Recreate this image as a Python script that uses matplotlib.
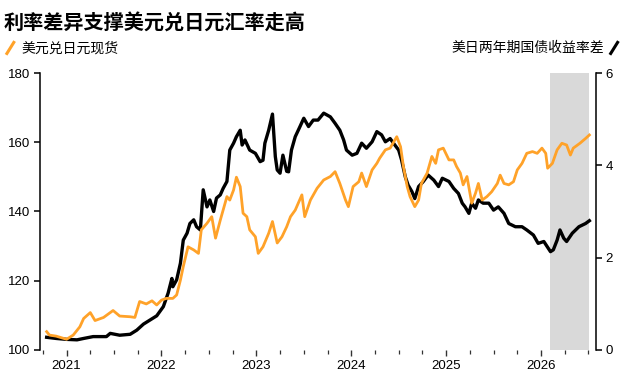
import matplotlib
matplotlib.use('Agg')
import matplotlib.pyplot as plt
from matplotlib.lines import Line2D
from matplotlib.ticker import MultipleLocator, FixedLocator

plt.rcParams['font.family'] = ['Liberation Sans', 'Noto Sans CJK SC', 'DejaVu Sans']

# USD/JPY spot (left axis), decimal years
usdjpy_t = [2020.79, 2020.82, 2020.89, 2021.00, 2021.07, 2021.14, 2021.18, 2021.25, 2021.30, 2021.39,
            2021.49, 2021.56, 2021.67, 2021.72, 2021.77, 2021.84, 2021.90, 2021.95, 2022.00, 2022.05,
            2022.12, 2022.16, 2022.20, 2022.23, 2022.28, 2022.34, 2022.39, 2022.42, 2022.48, 2022.53,
            2022.57, 2022.62, 2022.65, 2022.69, 2022.72, 2022.76, 2022.79, 2022.83, 2022.86, 2022.90,
            2022.93, 2022.99, 2023.02, 2023.07, 2023.13, 2023.17, 2023.22, 2023.27, 2023.32, 2023.36,
            2023.41, 2023.48, 2023.51, 2023.57, 2023.64, 2023.71, 2023.78, 2023.83, 2023.88, 2023.94,
            2023.97, 2024.02, 2024.08, 2024.11, 2024.16, 2024.22, 2024.27, 2024.30, 2024.36, 2024.41,
            2024.48, 2024.52, 2024.55, 2024.59, 2024.62, 2024.67, 2024.71, 2024.74, 2024.80, 2024.85,
            2024.89, 2024.92, 2024.97, 2025.03, 2025.08, 2025.11, 2025.15, 2025.18, 2025.22, 2025.27,
            2025.31, 2025.34, 2025.38, 2025.43, 2025.48, 2025.54, 2025.57, 2025.61, 2025.66, 2025.71,
            2025.75, 2025.80, 2025.85, 2025.91, 2025.96, 2026.01, 2026.05, 2026.07, 2026.12, 2026.17,
            2026.22, 2026.27, 2026.31, 2026.34, 2026.41, 2026.47, 2026.51]
usdjpy = [105.3, 104.3, 104.0, 103.1, 104.3, 106.7, 109.1, 110.8, 108.5, 109.4,
          111.4, 109.8, 109.6, 109.4, 114.0, 113.3, 114.2, 113.0, 114.4, 114.9,
          114.9, 115.9, 120.2, 124.1, 129.8, 128.9, 127.9, 134.7, 136.6, 138.5,
          132.3, 137.5, 140.4, 144.3, 143.3, 146.2, 149.9, 147.2, 139.5, 138.5,
          134.7, 132.7, 127.9, 129.8, 133.7, 137.1, 130.9, 132.7, 135.6, 138.5,
          140.4, 144.8, 138.5, 143.3, 146.7, 149.1, 150.1, 151.5, 148.1, 143.3,
          141.4, 147.2, 148.6, 151.1, 147.2, 152.0, 153.9, 155.4, 157.8, 158.3,
          161.6, 158.7, 153.0, 147.2, 144.3, 141.4, 143.3, 148.1, 151.1, 155.9,
          153.9, 157.8, 158.3, 154.9, 154.9, 153.0, 151.1, 147.7, 150.1, 142.4,
          145.3, 148.1, 143.3, 144.3, 145.7, 148.1, 150.5, 148.1, 147.7, 148.6,
          152.0, 153.9, 156.8, 157.3, 156.8, 158.3, 156.8, 152.5, 153.9, 157.8,
          159.7, 159.2, 156.3, 158.3, 159.7, 161.1, 162.1]

# US-Japan 2-year yield spread (right axis)
spread_t = [2020.79, 2020.89, 2021.00, 2021.11, 2021.18, 2021.28, 2021.42, 2021.46, 2021.56, 2021.67,
            2021.74, 2021.81, 2021.88, 2021.95, 2022.02, 2022.07, 2022.11, 2022.12, 2022.16, 2022.20,
            2022.23, 2022.27, 2022.30, 2022.34, 2022.37, 2022.41, 2022.44, 2022.48, 2022.51, 2022.55,
            2022.58, 2022.62, 2022.65, 2022.69, 2022.72, 2022.76, 2022.79, 2022.83, 2022.85, 2022.88,
            2022.93, 2022.99, 2023.04, 2023.07, 2023.09, 2023.13, 2023.17, 2023.20, 2023.22, 2023.25,
            2023.28, 2023.32, 2023.34, 2023.37, 2023.41, 2023.46, 2023.50, 2023.55, 2023.60, 2023.65,
            2023.71, 2023.78, 2023.83, 2023.88, 2023.92, 2023.95, 2024.01, 2024.06, 2024.11, 2024.16,
            2024.22, 2024.27, 2024.32, 2024.36, 2024.41, 2024.46, 2024.50, 2024.53, 2024.57, 2024.60,
            2024.64, 2024.67, 2024.71, 2024.76, 2024.81, 2024.87, 2024.92, 2024.96, 2025.03, 2025.08,
            2025.13, 2025.17, 2025.20, 2025.24, 2025.27, 2025.31, 2025.34, 2025.39, 2025.45, 2025.50,
            2025.55, 2025.61, 2025.66, 2025.73, 2025.80, 2025.85, 2025.92, 2025.97, 2026.03, 2026.10,
            2026.13, 2026.17, 2026.20, 2026.24, 2026.27, 2026.33, 2026.40, 2026.47, 2026.51]
spread = [0.275, 0.25, 0.23, 0.22, 0.25, 0.29, 0.29, 0.36, 0.32, 0.34,
          0.43, 0.56, 0.65, 0.74, 0.94, 1.23, 1.55, 1.37, 1.52, 1.88,
          2.38, 2.53, 2.74, 2.82, 2.67, 2.60, 3.47, 3.10, 3.25, 3.00,
          3.29, 3.36, 3.50, 3.65, 4.33, 4.48, 4.62, 4.76, 4.44, 4.55,
          4.33, 4.26, 4.08, 4.11, 4.48, 4.76, 5.11, 4.19, 3.90, 3.83,
          4.22, 3.87, 3.86, 4.33, 4.62, 4.84, 5.02, 4.84, 4.98, 4.98,
          5.13, 5.05, 4.91, 4.76, 4.55, 4.33, 4.22, 4.26, 4.48, 4.37,
          4.51, 4.73, 4.66, 4.51, 4.58, 4.44, 4.33, 4.12, 3.75, 3.57,
          3.43, 3.28, 3.54, 3.65, 3.79, 3.68, 3.54, 3.72, 3.65, 3.50,
          3.39, 3.18, 3.10, 2.96, 3.18, 3.07, 3.25, 3.18, 3.18, 3.03,
          3.10, 2.96, 2.74, 2.67, 2.67, 2.60, 2.49, 2.31, 2.35, 2.13,
          2.17, 2.38, 2.60, 2.42, 2.35, 2.53, 2.67, 2.74, 2.80]

years = [2021, 2022, 2023, 2024, 2025, 2026]
shade_start, shade_end = 2026.10, 2026.51

orange = '#FFA229'

fig = plt.figure(figsize=(6.27, 3.82), dpi=100)
ax = fig.add_axes([0.0638, 0.0838, 0.8868, 0.7251])
ax2 = ax.twinx()

ax2.axvspan(shade_start, shade_end, color='#D9D9D9', lw=0, zorder=0)
ax2.plot(spread_t, spread, color='black', lw=2.4, zorder=2)
ax.plot(usdjpy_t, usdjpy, color=orange, lw=2.0, zorder=3)

# orange on top of black
ax.set_zorder(ax2.get_zorder() + 1)
ax.patch.set_visible(False)

ax.set_xlim(2020.72, 2026.58)
ax.set_ylim(100, 180)
ax2.set_ylim(0, 6)
ax.set_yticks([100, 120, 140, 160, 180])
ax2.set_yticks([0, 2, 4, 6])

ax.xaxis.set_major_locator(FixedLocator(years))
ax.xaxis.set_minor_locator(MultipleLocator(0.25))
ax.set_xticklabels([str(y) for y in years])

for a in (ax, ax2):
    for s in ('top', 'bottom'):
        a.spines[s].set_visible(False)
ax.spines['right'].set_visible(False)
ax2.spines['left'].set_visible(False)
ax.spines['left'].set_linewidth(1.1)
ax2.spines['right'].set_linewidth(1.1)

ax.tick_params(axis='x', which='major', length=4, width=1, pad=3, labelsize=9.5, color='#333333')
ax.tick_params(axis='x', which='minor', length=3, width=0.9, color='#333333')
ax.tick_params(axis='y', length=4, width=1.1, pad=3, labelsize=9.5)
ax2.tick_params(axis='y', length=4, width=1.1, pad=3, labelsize=9.5)

fig.text(0.006, 0.94, '利率差异支撑美元兑日元汇率走高', fontsize=14.5, fontweight='bold',
         family=['Noto Sans CJK SC', 'DejaVu Sans'], va='center', ha='left')

fig.add_artist(Line2D([0.011, 0.022], [0.860, 0.889], color=orange, lw=2.2,
                      transform=fig.transFigure))
fig.text(0.034, 0.874, '美元兑日元现货', fontsize=10, family=['Noto Sans CJK SC', 'DejaVu Sans'],
         va='center', ha='left')
fig.add_artist(Line2D([0.974, 0.985], [0.860, 0.889], color='black', lw=2.2,
                      transform=fig.transFigure))
fig.text(0.963, 0.874, '美日两年期国债收益率差', fontsize=10, family=['Noto Sans CJK SC', 'DejaVu Sans'],
         va='center', ha='right')

fig.savefig('out.png', dpi=100)
